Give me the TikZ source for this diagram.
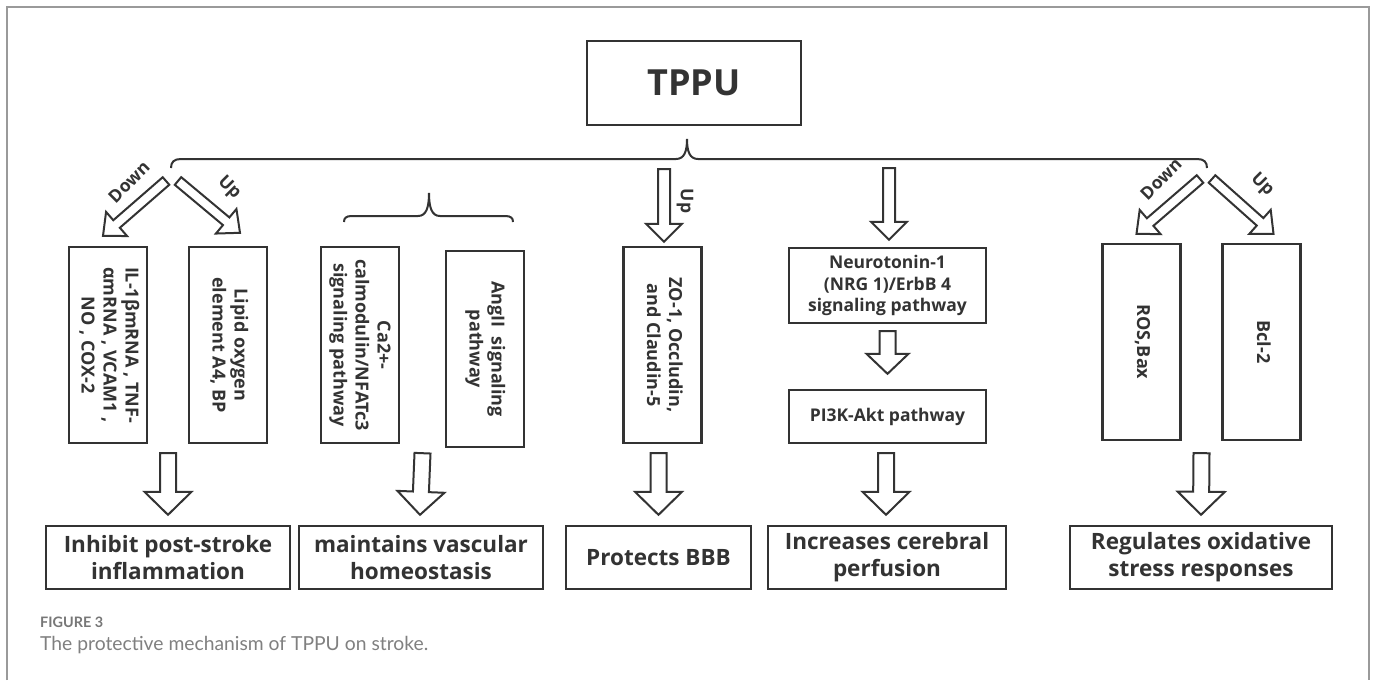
\documentclass[tikz,border=0pt]{standalone}
\usepackage{fontspec}
\setmainfont{Open Sans}
\newfontfamily\capfont{Lato}
\usepackage{graphicx}
\usetikzlibrary{calc}
\definecolor{ink}{HTML}{333333}
\definecolor{framec}{HTML}{9A9A9A}
\definecolor{capc}{HTML}{808080}
\definecolor{figc}{HTML}{777777}
\newcommand\vtext[1]{\rotatebox{-90}{\begin{tabular}{@{}c@{}}#1\end{tabular}}}
\newcommand\blockarrow[6][barrow]{%
  \coordinate (ba-A) at (#2);
  \coordinate (ba-B) at (#3);
  \coordinate (ba-H) at ($(ba-B)!#6!(ba-A)$);
  \draw[#1] ($(ba-A)!#4!90:(ba-B)$) -- ($(ba-H)!#4!90:(ba-B)$) -- ($(ba-H)!#5!90:(ba-B)$) -- (ba-B) -- ($(ba-H)!#5!-90:(ba-B)$) -- ($(ba-H)!#4!-90:(ba-B)$) -- ($(ba-A)!#4!-90:(ba-B)$) -- cycle;}
\begin{document}
\begin{tikzpicture}[x=1pt,y=-1pt,
  box/.style={draw=ink,line width=2.4pt,text=ink,inner sep=0pt,font=\bfseries},
  vbox/.style={box,minimum width=78pt,minimum height=196pt,font=\fontsize{18}{22}\selectfont\bfseries},
  hbox/.style={box,minimum width=197pt,align=center,font=\fontsize{17.5}{21.5}\selectfont\bfseries},
  outbox/.style={box,minimum height=63pt,align=center,font=\fontsize{22.5}{27}\selectfont\bfseries},
  barrow/.style={draw=ink,line width=2pt,fill=white,line join=miter},
  brace/.style={draw=ink,line width=2pt},
  lbl/.style={text=ink,inner sep=0pt,font=\fontsize{17.5}{17.5}\selectfont\bfseries},
  captext/.style={anchor=base west,inner sep=0pt}]
\useasboundingbox (0,0) rectangle (1373,680);
\fill[white] (0,0) rectangle (1373,680);
% outer frame
\draw[framec,line width=1.5pt] (7,680) -- (7,7) -- (1369,7) -- (1369,680);

% top node
\node[box,minimum width=214pt,minimum height=84pt,font=\fontsize{36}{36}\selectfont\bfseries] (tppu) at (694,83) {TPPU};

% braces
\draw[brace] (171,168) .. controls (171,162) and (174,159) .. (181,159) -- (676,159) .. controls (684,159) and (687,152) .. (687,139) .. controls (687,152) and (690,159) .. (698,159) -- (1197,159) .. controls (1204,159) and (1207,162) .. (1207,168);
\draw[brace] (344,222) .. controls (344,218) and (346,216) .. (352,216) -- (418,216) .. controls (426,216) and (429,208) .. (429,193) .. controls (429,208) and (432,216) .. (440,216) -- (505,216) .. controls (511,216) and (513,218) .. (513,222);

% middle boxes
\node[vbox] (il) at (108,345) {\vtext{IL-1βmRNA , TNF-\\αmRNA , VCAM1 ,\\NO , COX-2}};
\node[vbox] (lipid) at (228,345) {\vtext{Lipid oxygen\\element A4, BP}};
\node[vbox] (ca) at (360,345) {\vtext{Ca2+-\\calmodulin/NFATc3\\signaling pathway}};
\node[vbox] (ang) at (485,349) {\vtext{AngII\ \ signaling\\pathway}};
\node[vbox] (zo) at (662.5,345) {\vtext{ZO-1, Occludin,\\and Claudin-5}};
\node[hbox,minimum height=75pt] (neuro) at (887.5,285.5) {Neurotonin-1\\(NRG 1)/ErbB 4\\signaling pathway};
\node[hbox,minimum height=53pt] (pi3k) at (887.5,416.5) {PI3K-Akt pathway};
\node[vbox] (ros) at (1141.5,342) {\vtext{ROS,Bax}};
\node[vbox] (bcl) at (1261.5,342) {\vtext{Bcl-2}};

% bottom boxes
\node[outbox,minimum width=244pt] (b1) at (168,557.5) {Inhibit post-stroke\\inflammation};
\node[outbox,minimum width=244pt] (b2) at (421,557.5) {maintains vascular\\homeostasis};
\node[outbox,minimum width=185pt] (b3) at (658.5,557.5) {Protects BBB};
\node[outbox,minimum width=238pt] (b4) at (887,557.5) {Increases cerebral\\perfusion};
\node[outbox,minimum width=262pt] (b5) at (1201,557.5) {Regulates oxidative\\stress responses};

% free ends of arrows below the brace
\coordinate (sL1) at (166,181);
\coordinate (sL2) at (178,181);
\coordinate (sZ) at (664,169);
\coordinate (sN) at (889,168);
\coordinate (sR1) at (1200,179);
\coordinate (sR2) at (1212,179);

% upper arrows
\blockarrow{sL1}{$(il.north)+(-5,-10)$}{5pt}{16pt}{18pt}
\blockarrow{sL2}{$(lipid.north)+(12,-13)$}{5pt}{16pt}{18pt}
\blockarrow{sZ}{$(zo.north)+(1.5,-4)$}{6pt}{18pt}{18pt}
\blockarrow{sN}{$(neuro.north)+(1.5,-7)$}{6pt}{18pt}{18pt}
\blockarrow{sR1}{$(ros.north)+(-5,-9)$}{5pt}{16pt}{18pt}
\blockarrow{sR2}{$(bcl.north)+(12,-9)$}{5pt}{16pt}{18pt}
\blockarrow{$(neuro.south)+(0,7)$}{$(pi3k.north)+(0,-15)$}{8pt}{21pt}{20pt}

% lower arrows
\blockarrow{$(il.south)!.5!(lipid.south)+(0,9)$}{$(b1.north)+(0,-10)$}{8pt}{23.5pt}{23pt}
\blockarrow{$(ca.south)!.5!(ang.south)+(0,7)$}{$(b2.north)+(-1,-10)$}{8pt}{23.5pt}{23pt}
\blockarrow{$(zo.south)+(-4,9)$}{$(b3.north)+(0,-10)$}{8pt}{23.5pt}{23pt}
\blockarrow{$(pi3k.south)+(-1.5,9)$}{$(b4.north)+(-1,-10)$}{8pt}{23.5pt}{23pt}
\blockarrow{$(ros.south)!.5!(bcl.south)+(0,12)$}{$(b5.north)+(0,-10)$}{8pt}{23.5pt}{23pt}

% labels
\node[lbl,rotate=45] (dL) at (129,182) {Down};
\node[lbl,rotate=-45] (uL) at (229,188) {Up};
\node[lbl,rotate=-90] (uZ) at (685,201) {Up};
\node[lbl,rotate=45] (dR) at (1161,179) {Down};
\node[lbl,rotate=-45] (uR) at (1262,185) {Up};

% caption
\node[captext,text=figc] (fig) at (40,627) {\resizebox{63pt}{!}{\capfont\bfseries FIGURE 3}};
\node[captext,text=capc] (capt) at (40,650) {\resizebox{388pt}{!}{\capfont The protective mechanism of TPPU on stroke.}};
\end{tikzpicture}
\end{document}
